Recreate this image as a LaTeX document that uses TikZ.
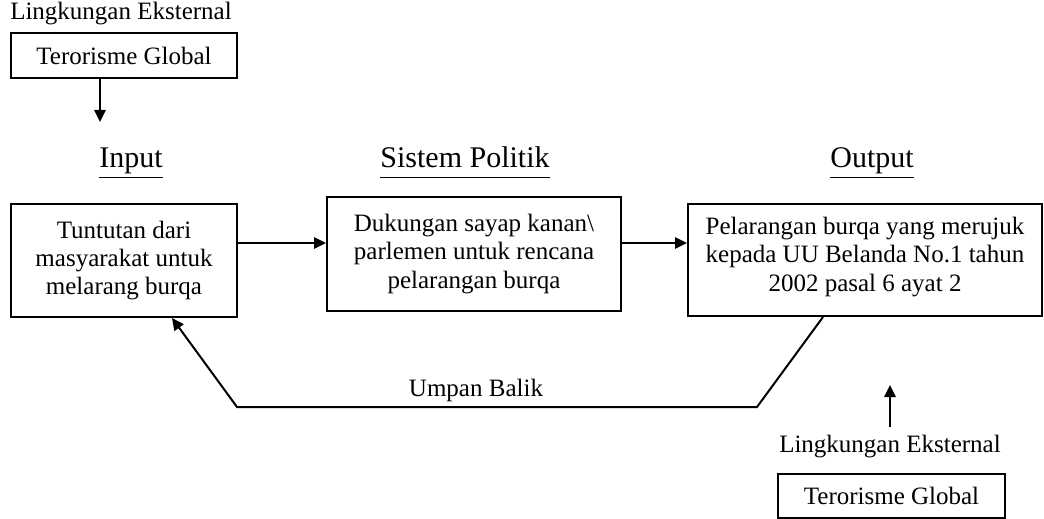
\documentclass[tikz,border=0pt]{standalone}
\usepackage{fontspec}
\setmainfont{Liberation Serif}
\usetikzlibrary{arrows.meta,positioning}
\newcommand\headtxt[1]{\underline{#1\vphantom{p}}}
\tikzset{
  box/.style={draw,line width=1pt,align=center,inner sep=0pt,font=\fontsize{12.5}{14.2}\selectfont},
  head/.style={font=\fontsize{15}{17}\selectfont,anchor=base,inner sep=0pt},
  lbl/.style={font=\fontsize{12.5}{14.2}\selectfont,inner sep=1pt},
  arr/.style={-{Triangle[length=6pt,width=5.6pt]},line width=1pt}
}
\begin{document}
\begin{tikzpicture}[x=0.5pt,y=-0.5pt]
\useasboundingbox (0,0) rectangle (1044,519);
\node[lbl] (envtop) at (121,14) {Lingkungan Eksternal};
\node[box,minimum width=113pt,minimum height=22.5pt] (terrtop) at (124,55.5) {Terorisme Global};
\coordinate (intop) at (100,122);
\node[head] (hin) at (131,168) {\headtxt{Input}};
\node[head] (hsys) at (465,168) {\headtxt{Sistem Politik}};
\node[head] (hout) at (872,168) {\headtxt{Output}};
\node[box,minimum width=113pt,minimum height=56.5pt] (in) at (124,260.5) {Tuntutan dari\\masyarakat untuk\\melarang burqa};
\node[box,minimum width=147pt,minimum height=57pt] (sys) at (474,254) {Dukungan sayap kanan\textbackslash\\parlemen untuk rencana\\pelarangan burqa};
\node[box,minimum width=177pt,minimum height=56pt,text depth=6pt] (out) at (865,260) {Pelarangan burqa yang merujuk\\kepada UU Belanda No.1 tahun\\2002 pasal 6 ayat 2};
\coordinate (a1) at ([yshift=8.75pt]in.east);
\coordinate (a2) at ([yshift=5.5pt]sys.east);
\coordinate (fbR) at (757,407);
\coordinate (fbL) at (237,407);
\node[lbl] (fb) at (476,390) {Umpan Balik};
\node[lbl] (envbot) at (890,447) {Lingkungan Eksternal};
\coordinate (outin) at (890,385);
\node[box,minimum width=113.5pt,minimum height=22pt] (terrbot) at (891.5,496) {Terorisme Global};
\draw[arr] ([xshift=-12pt]terrtop.south) -- (intop);
\draw[arr] (a1) -- (a1 -| sys.west); \draw[arr] (a2) -- (a2 -| out.west);
\draw[arr] ([xshift=-21pt]out.south) -- (fbR) -- (fbL) -- ([xshift=24pt]in.south);
\draw[arr] ([yshift=3pt]envbot.north) -- (outin);
\end{tikzpicture}
\end{document}
